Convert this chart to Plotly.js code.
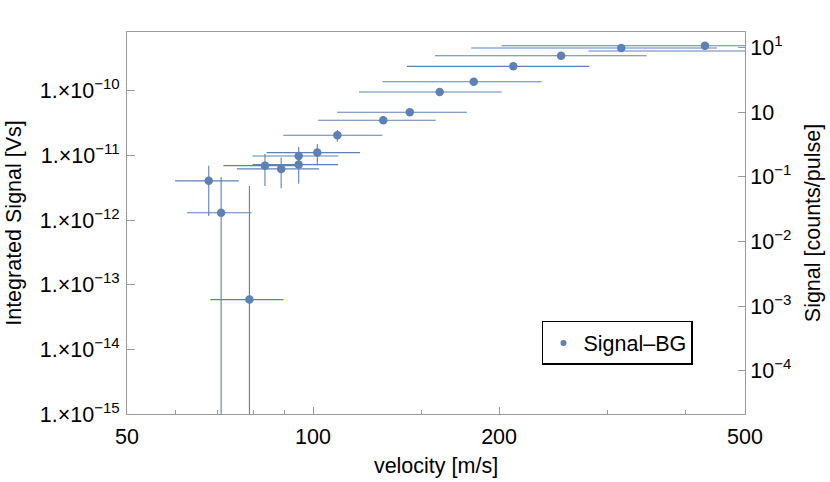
<!DOCTYPE html>
<html>
<head>
<meta charset="utf-8">
<script src="https://cdn.plot.ly/plotly-3.0.1.min.js"></script>
<style>html,body{margin:0;padding:0;background:#fff;}#chart{width:830px;height:482px;}</style>
</head>
<body>
<div id="chart"></div>
<script>
// velocity [m/s] of each point and its (symmetric) uncertainty
const velocity = [67.8, 71.0, 78.9, 83.6, 88.8, 94.8, 94.8, 101.6, 109.5, 129.9, 143.4, 160.3, 182.0, 210.9, 252.0, 315.3, 430.7, 600];
const velocityErr = [8.0, 8.5, 10.7, 12.0, 13.5, 15.0, 15.0, 17.5, 20.0, 28.0, 34.0, 41.6, 52.5, 69.0, 94.5, 135, 229, 321];
// integrated signal [Vs] and its uncertainty
const signal = [4.06e-12, 1.30e-12, 5.9e-14, 6.98e-12, 6.21e-12, 9.86e-12, 7.24e-12, 1.11e-11, 2.06e-11, 3.52e-11, 4.68e-11, 9.64e-11, 1.39e-10, 2.40e-10, 3.51e-10, 4.61e-10, 4.99e-10, 4.15e-10];
const signalErr = [2.9e-12, 3.37e-12, 3.33e-12, 3.6e-12, 3.1e-12, 3.7e-12, 3.56e-12, 4.0e-12, 4.3e-12, 4.5e-12, 4.8e-12, 5e-12, 5.5e-12, 6e-12, 7e-12, 8e-12, 9e-12, 9e-12];

const xTickVals = [50, 100, 200, 500];
const xTickText = ['50', '100', '200', '500'];
const xMinorVals = [60, 70, 80, 90, 150, 300, 400];
const yTickVals = [1e-15, 1e-14, 1e-13, 1e-12, 1e-11, 1e-10];
const yTickText = ['1.×10<sup>−15</sup>', '1.×10<sup>−14</sup>', '1.×10<sup>−13</sup>', '1.×10<sup>−12</sup>', '1.×10<sup>−11</sup>', '1.×10<sup>−10</sup>'];
const y2TickVals = [1e-4, 1e-3, 1e-2, 1e-1, 1, 10];
const y2TickText = ['10<sup>−4</sup>', '10<sup>−3</sup>', '10<sup>−2</sup>', '10<sup>−1</sup>', '10', '10<sup>1</sup>'];
const seriesName = 'Signal–BG';

const col = 'rgb(94,129,181)';
const frame = '#9a9a9a';
const FONT = 'Liberation Sans, Arial, sans-serif';
const FS = 21.5;

const traces = [
  {
    x: velocity, y: signal, type: 'scatter', mode: 'markers', showlegend: false,
    marker: {color: col, size: 8.5},
    error_x: {type: 'data', array: velocityErr, symmetric: true, color: col, thickness: 1.1, width: 0},
    error_y: {type: 'data', array: signalErr, symmetric: true, color: col, thickness: 1.1, width: 0},
    cliponaxis: true
  },
  {
    x: [null], y: [null], type: 'scatter', mode: 'markers', name: seriesName,
    marker: {color: col, size: 6}, yaxis: 'y2', showlegend: true
  }
];

const baseAxis = {
  showgrid: false, zeroline: false, showline: true, linecolor: frame, linewidth: 1,
  ticks: 'inside', tickcolor: frame, tickwidth: 1,
  tickfont: {family: FONT, size: FS, color: '#000'}
};

const layout = {
  width: 830, height: 482,
  margin: {l: 127, r: 85, t: 32, b: 68, pad: 0},
  paper_bgcolor: '#fff', plot_bgcolor: '#fff',
  font: {family: FONT, size: FS, color: '#000'},
  xaxis: Object.assign({}, baseAxis, {
    type: 'log', range: [Math.log10(50), Math.log10(500)], mirror: true,
    tickmode: 'array', tickvals: xTickVals, ticktext: xTickText, ticklen: 7, ticklabelstandoff: 3,
    minor: {tickmode: 'array', tickvals: xMinorVals, ticks: 'inside', ticklen: 4, tickcolor: frame, showgrid: false},
    title: {text: 'velocity [m/s]', font: {family: FONT, size: FS, color: '#000'}, standoff: 10}
  }),
  yaxis: Object.assign({}, baseAxis, {
    type: 'log', range: [-15, -9.088], mirror: true,
    tickmode: 'array', tickvals: yTickVals, ticktext: yTickText, ticklen: 8, ticklabelstandoff: 2,
    title: {text: 'Integrated Signal [Vs]', font: {family: FONT, size: FS, color: '#000'}, standoff: 12}
  }),
  yaxis2: Object.assign({}, baseAxis, {
    type: 'log', range: [-4.67, 1.242], overlaying: 'y', side: 'right',
    tickmode: 'array', tickvals: y2TickVals, ticktext: y2TickText, ticklen: 7,
    title: {text: 'Signal [counts/pulse]', font: {family: FONT, size: FS, color: '#000'}, standoff: 14}
  }),
  legend: {
    x: 0.6715, y: 0.2435, xanchor: 'left', yanchor: 'top',
    bordercolor: '#000', borderwidth: 1.5, bgcolor: '#fff',
    font: {family: FONT, size: FS, color: '#000'}
  },
  showlegend: true
};

Plotly.newPlot('chart', traces, layout, {displayModeBar: false, staticPlot: true});
</script>
</body>
</html>
